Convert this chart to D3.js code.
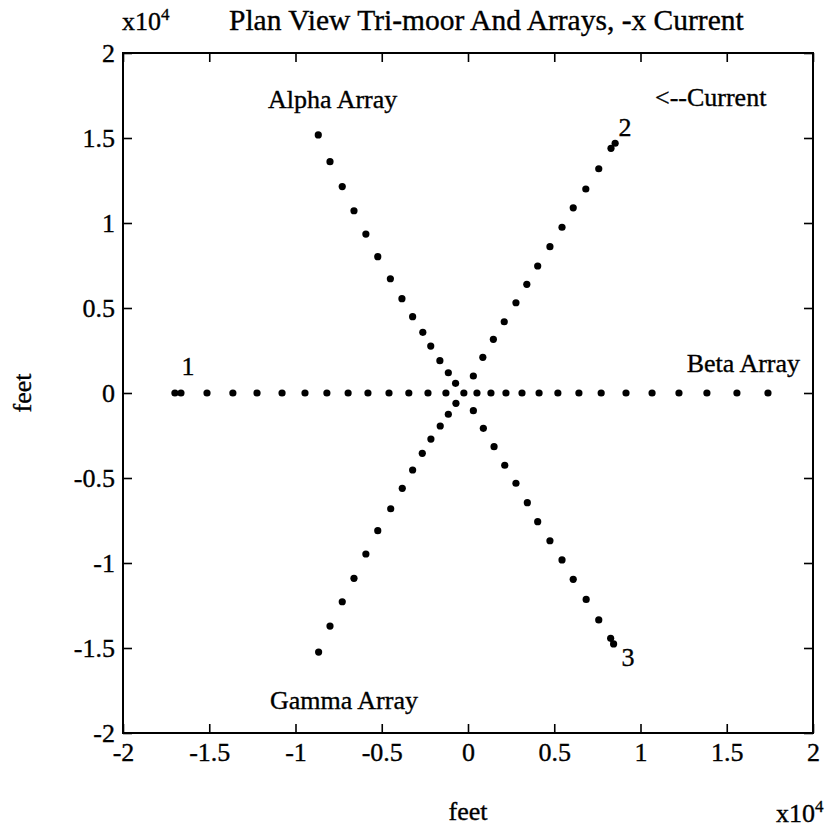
<!DOCTYPE html>
<html>
<head>
<meta charset="utf-8">
<script src="https://cdn.jsdelivr.net/npm/d3@7"></script>
<style>
  html, body { margin: 0; padding: 0; background: #fff; }
  svg { display: block; }
  text { font-family: "Liberation Serif", "Times New Roman", serif; fill: #000; stroke: #000; stroke-width: 0.35px; }
</style>
</head>
<body>
<script>
// ---- data (feet) ----
const tickValues = [-20000, -15000, -10000, -5000, 0, 5000, 10000, 15000, 20000];
const tickLabels = ["-2", "-1.5", "-1", "-0.5", "0", "0.5", "1", "1.5", "2"];

const centerPoint = [[-240, 0]];
// mooring leg 1 (to the left)
const mooring1 = [[-1280,0],[-2320,0],[-3430,0],[-4580,0],[-5800,0],[-6950,0],[-8180,0],
  [-9450,0],[-10780,0],[-12230,0],[-13630,0],[-15130,0],[-16640,0],[-16990,0]];
// Beta array (to the right)
const betaArray = [[520,0],[1330,0],[2200,0],[3130,0],[4120,0],[5210,0],[6430,0],
  [7720,0],[9160,0],[10670,0],[12230,0],[13850,0],[15590,0],[17390,0]];
// Alpha array (upper left)
const alphaArray = [[-720,570],[-1140,1190],[-1630,1900],[-2160,2760],[-2620,3570],[-3210,4490],
  [-3830,5550],[-4500,6720],[-5230,8020],[-5920,9350],[-6610,10720],[-7290,12140],[-8000,13610],[-8680,15180]];
// Gamma array (lower left)
const gammaArray = [[-700,-610],[-1140,-1250],[-1610,-1940],[-2150,-2710],[-2650,-3550],[-3210,-4530],
  [-3810,-5610],[-4480,-6810],[-5230,-8100],[-5920,-9470],[-6610,-10900],[-7290,-12280],[-8000,-13710],[-8660,-15240]];
// mooring leg 2 (upper right)
const mooring2 = [[310,1000],[860,2100],[1470,3160],[2100,4190],[2780,5310],[3410,6390],[4040,7470],
  [4750,8610],[5450,9750],[6100,10890],[6830,12000],[7580,13190],[8290,14390],[8530,14690]];
// mooring leg 3 (lower right)
const mooring3 = [[310,-1040],[890,-2080],[1510,-3160],[2130,-4250],[2780,-5310],[3440,-6450],[4040,-7570],
  [4750,-8690],[5450,-9820],[6100,-10960],[6850,-12140],[7580,-13350],[8270,-14430],[8440,-14760]];

// annotations in data coordinates (feet)
const annotations = [
  { text: "Alpha Array", x: -11590, y: 17240, anchor: "start" },
  { text: "<--Current",  x: 10840, y: 17410, anchor: "start" },
  { text: "Beta Array",  x: 19250, y: 1760, anchor: "end" },
  { text: "Gamma Array", x: -11480, y: -18060, anchor: "start" },
  { text: "1", x: -16230, y: 1530, anchor: "middle" },
  { text: "2", x: 9100, y: 15590, anchor: "middle" },
  { text: "3", x: 9280, y: -15530, anchor: "middle" }
];

// ---- layout ----
const W = 831, H = 832;
const mLeft = 123, mRight = 813, mTop = 53, mBottom = 733;

const svg = d3.select("body").append("svg").attr("width", W).attr("height", H);

const x = d3.scaleLinear().domain([-20000, 20000]).range([mLeft, mRight]);
const y = d3.scaleLinear().domain([-20000, 20000]).range([mBottom, mTop]);
const fmt = d => tickLabels[tickValues.indexOf(d)];

const fontSize = 26;

function styleAxis(g) {
  g.select(".domain").remove();
  g.selectAll("line").attr("stroke", "#000").attr("stroke-width", 1.6);
  g.selectAll("text").style("font-size", fontSize + "px").attr("fill", "#000");
}

svg.append("g").attr("transform", `translate(0,${mBottom})`)
  .call(d3.axisBottom(x).tickValues(tickValues).tickFormat(fmt).tickSize(-9).tickPadding(10))
  .call(styleAxis);
svg.append("g").attr("transform", `translate(0,${mTop})`)
  .call(d3.axisTop(x).tickValues(tickValues).tickFormat("").tickSize(-9))
  .call(styleAxis);
svg.append("g").attr("transform", `translate(${mLeft},0)`)
  .call(d3.axisLeft(y).tickValues(tickValues).tickFormat(fmt).tickSize(-9).tickPadding(8))
  .call(styleAxis);
svg.append("g").attr("transform", `translate(${mRight},0)`)
  .call(d3.axisRight(y).tickValues(tickValues).tickFormat("").tickSize(-9))
  .call(styleAxis);

// frame
svg.append("rect").attr("x", mLeft).attr("y", mTop)
  .attr("width", mRight - mLeft).attr("height", mBottom - mTop)
  .attr("fill", "none").attr("stroke", "#000").attr("stroke-width", 2);

// points
const allSeries = [centerPoint, mooring1, betaArray, alphaArray, gammaArray, mooring2, mooring3];
allSeries.forEach(series => {
  svg.append("g").selectAll("circle").data(series).join("circle")
    .attr("cx", d => x(d[0])).attr("cy", d => y(d[1]))
    .attr("r", 3.6).attr("fill", "#000");
});

// annotations
svg.append("g").selectAll("text").data(annotations).join("text")
  .attr("x", d => x(d.x)).attr("y", d => y(d.y))
  .attr("text-anchor", d => d.anchor)
  .attr("dominant-baseline", "central")
  .style("font-size", fontSize + "px")
  .text(d => d.text);

// title
svg.append("text").attr("x", 229).attr("y", 30)
  .style("font-size", "29.5px").text("Plan View Tri-moor And Arrays, -x Current");

// exponent labels
function expLabel(px, py) {
  const t = svg.append("text").attr("x", px).attr("y", py).style("font-size", fontSize + "px");
  t.append("tspan").text("x10");
  t.append("tspan").attr("dy", -10).style("font-size", "17px").text("4");
}
expLabel(122, 30);
expLabel(776, 822);

// axis titles
svg.append("text").attr("x", x(0)).attr("y", 820).attr("text-anchor", "middle")
  .style("font-size", fontSize + "px").text("feet");
svg.append("text").attr("transform", `translate(31,${y(0)}) rotate(-90)`)
  .attr("text-anchor", "middle").style("font-size", fontSize + "px").text("feet");
</script>
</body>
</html>
